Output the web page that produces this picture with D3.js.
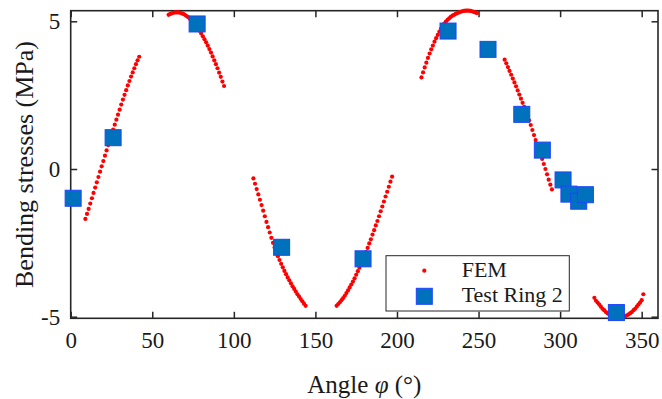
<!DOCTYPE html>
<html>
<head>
<meta charset="utf-8">
<script src="https://cdn.jsdelivr.net/npm/d3@7"></script>
<style>
  body { margin: 0; background: #fff; }
  svg text { font-family: "Liberation Serif", "DejaVu Serif", serif; fill: #1a1a1a; }
</style>
</head>
<body>
<svg id="chart" width="662" height="399"></svg>
<script>
/*
** Data
*/
// FEM results, [angle (deg), bending stress (MPa)], one array per visible stretch
var femA = [
    [9,-1.69],[10,-1.52],[11,-1.35],[12,-1.17],[13,-0.99],[14,-0.81],[15,-0.63],[16,-0.45],
    [17,-0.27],[18,-0.09],[19,0.09],[20,0.27],[21,0.45],[22,0.63],[23,0.81],[24,0.99],
    [25,1.17],[26,1.33],[27,1.50],[28,1.67],[29,1.84],[30,2.01],[31,2.18],[32,2.35],
    [33,2.51],[34,2.67],[35,2.83],[36,2.98],[37,3.13],[38,3.27],[39,3.41],[40,3.55],
    [41,3.68],[42,3.80]
];
var femB = [
    [60,5.22],[61,5.25],[62,5.27],[63,5.29],[64,5.30],[65,5.30],[66,5.30],[67,5.29],
    [68,5.27],[69,5.25],[70,5.22],[71,5.18],[72,5.14],[73,5.09],[74,5.04],[75,4.98],
    [76,4.91],[77,4.84],[78,4.76],[79,4.68],[80,4.59],[81,4.49],[82,4.39],[83,4.29],
    [84,4.18],[85,4.06],[86,3.94],[87,3.81],[88,3.68],[89,3.55],[90,3.41],[91,3.26],
    [92,3.12],[93,2.96],[94,2.81]
];
var femC = [
    [112,-0.32],[113,-0.50],[114,-0.68],[115,-0.86],[116,-1.04],[117,-1.22],[118,-1.41],
    [119,-1.60],[120,-1.79],[121,-1.97],[122,-2.15],[123,-2.33],[124,-2.50],[125,-2.66],
    [126,-2.81],[127,-2.95],[128,-3.08],[129,-3.21],[130,-3.33],[131,-3.45],[132,-3.56],
    [133,-3.67],[134,-3.77],[135,-3.87],[136,-3.97],[137,-4.06],[138,-4.15],[139,-4.24],
    [140,-4.32],[141,-4.40],[142,-4.48],[143,-4.56],[144,-4.63]
];
var femD = [
    [163,-4.63],[164,-4.57],[165,-4.51],[166,-4.44],[167,-4.37],[168,-4.29],[169,-4.20],
    [170,-4.11],[171,-4.01],[172,-3.91],[173,-3.81],[174,-3.70],[175,-3.58],[176,-3.46],
    [177,-3.34],[178,-3.21],[179,-3.08],[180,-2.95],[181,-2.81],[182,-2.67],[183,-2.52],
    [184,-2.38],[185,-2.22],[186,-2.07],[187,-1.91],[188,-1.76],[189,-1.60],[190,-1.43],
    [191,-1.27],[192,-1.10],[193,-0.93],[194,-0.77],[195,-0.60],[196,-0.43],[197,-0.26]
];
var femE = [
    [215,3.10],[216,3.27],[217,3.44],[218,3.60],[219,3.76],[220,3.91],[221,4.05],[222,4.18],
    [223,4.31],[224,4.43],[225,4.54],[226,4.65],[227,4.75],[228,4.84],[229,4.92],[230,4.99],
    [231,5.05],[232,5.10],[233,5.15],[234,5.19],[235,5.22],[236,5.25],[237,5.28],[238,5.30],
    [239,5.32],[240,5.34],[241,5.35],[242,5.36],[243,5.36],[244,5.36],[245,5.35],[246,5.34],
    [247,5.32],[248,5.30],[249,5.28]
];
var femF = [
    [266,3.70],[267,3.58],[268,3.45],[269,3.32],[270,3.19],[271,3.06],[272,2.93],[273,2.80],
    [274,2.66],[275,2.52],[276,2.38],[277,2.24],[278,2.10],[279,1.95],[280,1.80],[281,1.65],
    [282,1.49],[283,1.32],[284,1.15],[285,0.98],[286,0.82],[287,0.66],[288,0.50],[289,0.34],
    [290,0.17],[291,0.00],[292,-0.18],[293,-0.36],[294,-0.53],[295,-0.69]
];
var femG = [
    [321,-4.36],[322,-4.46],[323,-4.52],[324,-4.59],[325,-4.66],[326,-4.73],[327,-4.78],
    [328,-4.84],[329,-4.88],[330,-4.92],[331,-4.95],[332,-4.98],[333,-5.00],[334,-5.02],
    [335,-5.03],[336,-5.03],[337,-5.03],[338,-5.02],[339,-5.00],[340,-4.98],[341,-4.95],
    [342,-4.92],[343,-4.88],[344,-4.84],[345,-4.78],[346,-4.73],[347,-4.66],[348,-4.59],
    [349,-4.52],[350,-4.44],[351,-4.24]
];

// Test Ring 2 measurements
var testAngle  = [1.5, 26, 77.5, 129.3, 179.2, 231.3, 255.8, 276.5, 289.1, 301.8, 305.4, 311.4, 315.5, 334.5];
var testStress = [-0.99, 1.06, 4.91, -2.65, -3.04, 4.67, 4.05, 1.85, 0.64, -0.37, -0.85, -1.09, -0.87, -4.86];

var xTicks = [0, 50, 100, 150, 200, 250, 300, 350];
var yTicks = [-5, 0, 5];
var xDomain = [0, 360];
var yDomain = [-5.054, 5.359];
var legendLabels = ["FEM", "Test Ring 2"];

/*
** Layout & style
*/
var plot = { left: 70.7, right: 658, top: 10.7, bottom: 318.3 }
  , axisColor = "#262626"
  , tickLen = 6.5
  , femColor = "#ff0000"
  , testFill = "#0072bd"
  , testEdge = "#1f44ff"
  , squareSize = 16
;

var svg = d3.select("#chart");

var x = d3.scaleLinear().domain(xDomain).range([plot.left, plot.right]);
var y = d3.scaleLinear().domain(yDomain).range([plot.bottom, plot.top]);

var femPoints = [].concat(femA, femB, femC, femD, femE, femF, femG);
var testPoints = testAngle.map(function(a, i) { return { angle: a, stress: testStress[i] }; });

/*
** Axes (ticks pointing inward on all four sides)
*/
function styleAxis(g) {
    g.attr("font-family", null).attr("font-size", null);
    g.select(".domain").remove();
    g.selectAll(".tick line").attr("stroke", axisColor).attr("stroke-width", 1.5);
    g.selectAll(".tick text")
        .style("font-size", "23px")
        .attr("fill", "#1a1a1a")
    ;
} // styleAxis()

svg.append("g")
    .attr("transform", "translate(0," + plot.bottom + ")")
    .call(d3.axisBottom(x).tickValues(xTicks).tickSizeInner(-tickLen).tickSizeOuter(0)
        .tickPadding(13.5).tickFormat(function(d) { return String(d); }))
    .call(styleAxis)
;
svg.append("g")
    .attr("transform", "translate(0," + plot.top + ")")
    .call(d3.axisTop(x).tickValues(xTicks).tickSizeInner(-tickLen).tickSizeOuter(0).tickFormat(""))
    .call(styleAxis)
;
svg.append("g")
    .attr("transform", "translate(" + plot.left + ",0)")
    .call(d3.axisLeft(y).tickValues(yTicks).tickSizeInner(-tickLen).tickSizeOuter(0)
        .tickPadding(10.5).tickFormat(function(d) { return String(d); }))
    .call(styleAxis)
;
svg.append("g")
    .attr("transform", "translate(" + plot.right + ",0)")
    .call(d3.axisRight(y).tickValues(yTicks).tickSizeInner(-tickLen).tickSizeOuter(0).tickFormat(""))
    .call(styleAxis)
;

svg.append("rect")
    .attr("x", plot.left)
    .attr("y", plot.top)
    .attr("width", plot.right - plot.left)
    .attr("height", plot.bottom - plot.top)
    .attr("fill", "none")
    .attr("stroke", axisColor)
    .attr("stroke-width", 1.6)
;

/*
** Marks
*/
svg.append("g")
    .attr("class", "fem")
  .selectAll("circle")
    .data(femPoints)
  .enter().append("circle")
    .attr("cx", function(d) { return x(d[0]); })
    .attr("cy", function(d) { return y(d[1]); })
    .attr("r", 2.1)
    .attr("fill", femColor)
;

svg.append("g")
    .attr("class", "test")
  .selectAll("rect")
    .data(testPoints)
  .enter().append("rect")
    .attr("x", function(d) { return x(d.angle) - squareSize / 2; })
    .attr("y", function(d) { return y(d.stress) - squareSize / 2; })
    .attr("width", squareSize)
    .attr("height", squareSize)
    .attr("fill", testFill)
    .attr("stroke", testEdge)
    .attr("stroke-width", 1)
;

/*
** Axis titles
*/
svg.append("text")
    .attr("x", (plot.left + plot.right) / 2)
    .attr("y", 393)
    .attr("text-anchor", "middle")
    .style("font-size", "25px")
    .call(function(t) {
        t.append("tspan").text("Angle ");
        t.append("tspan").style("font-style", "italic").text("\u03c6");
        t.append("tspan").text(" (\u00b0)");
    })
;
svg.append("text")
    .attr("transform", "translate(33," + ((plot.top + plot.bottom) / 2) + ") rotate(-90)")
    .attr("text-anchor", "middle")
    .style("font-size", "26px")
    .text("Bending stresses (MPa)")
;

/*
** Legend
*/
var legend = svg.append("g").attr("class", "legend");
legend.append("rect")
    .attr("x", 386)
    .attr("y", 255.7)
    .attr("width", 183.3)
    .attr("height", 55.3)
    .attr("fill", "#fff")
    .attr("stroke", axisColor)
    .attr("stroke-width", 1)
;
legend.append("circle")
    .attr("cx", 424.3)
    .attr("cy", 270.7)
    .attr("r", 2.1)
    .attr("fill", femColor)
;
legend.append("rect")
    .attr("x", 424.3 - squareSize / 2)
    .attr("y", 296.3 - squareSize / 2)
    .attr("width", squareSize)
    .attr("height", squareSize)
    .attr("fill", testFill)
    .attr("stroke", testEdge)
    .attr("stroke-width", 1)
;
legend.selectAll("text.label")
    .data(legendLabels)
  .enter().append("text")
    .attr("class", "label")
    .attr("x", 461.7)
    .attr("y", function(d, i) { return 277 + i * 25; })
    .style("font-size", "22px")
    .text(function(d) { return d; })
;
</script>
</body>
</html>
